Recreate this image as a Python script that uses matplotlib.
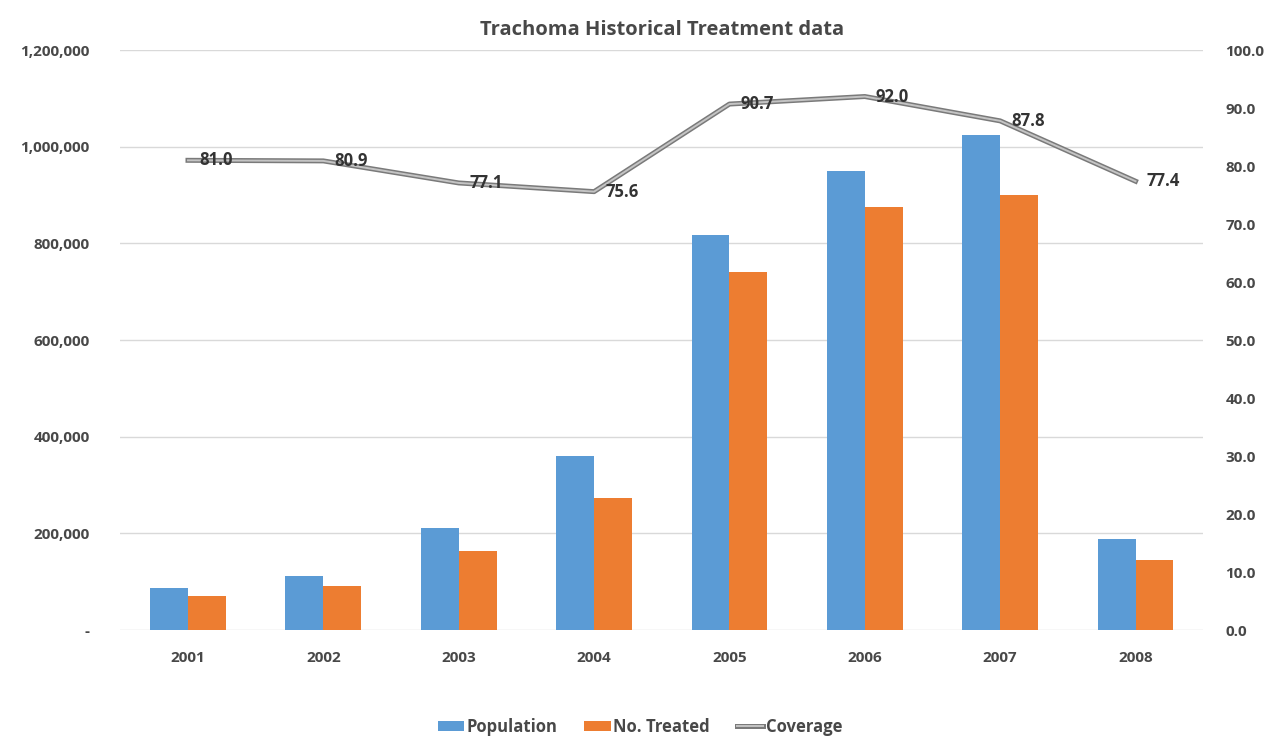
import numpy as np
import matplotlib.pyplot as plt
import matplotlib.patheffects as pe
from matplotlib.ticker import FuncFormatter

years = ["2001", "2002", "2003", "2004", "2005", "2006", "2007", "2008"]
population = [87000, 112000, 211000, 360000, 817000, 950000, 1024000, 188000]
treated = [70000, 91000, 163000, 273000, 741000, 875000, 900000, 145000]
coverage = [81.0, 80.9, 77.1, 75.6, 90.7, 92.0, 87.8, 77.4]

plt.rcParams['font.family'] = ['Open Sans', 'DejaVu Sans']
txt = '#484848'

fig = plt.figure(figsize=(12.8, 7.37), dpi=100)
ax = fig.add_axes([0.094, 0.145, 0.846, 0.787])
ax2 = ax.twinx()

x = np.arange(len(years))
w = 0.28
ax.bar(x - w/2, population, w, color='#5b9bd5', label='Population', zorder=3)
ax.bar(x + w/2, treated, w, color='#ed7d31', label='No. Treated', zorder=3)

ax.set_xlim(-0.5, len(years) - 0.5)
ax.set_ylim(0, 1200000)
ax.set_yticks(np.arange(0, 1200001, 200000))
ax.yaxis.set_major_formatter(FuncFormatter(lambda v, p: '-' if v == 0 else f'{int(v):,}'))
ax.grid(axis='y', color='#d9d9d9', linewidth=1, zorder=0)
ax.set_xticks(x)
ax.set_xticklabels(years)

line, = ax2.plot(x, coverage, color='#c4c4c4', linewidth=1.4, label='Coverage', zorder=4,
                 path_effects=[pe.Stroke(linewidth=3.6, foreground='#7a7a7a'), pe.Normal()])
ax2.set_ylim(0, 100)
ax2.set_yticks(np.arange(0, 101, 10))
ax2.yaxis.set_major_formatter(FuncFormatter(lambda v, p: f'{v:.1f}'))

for xi, c in zip(x, coverage):
    ax2.annotate(f'{c:.1f}', (xi, c), xytext=(8, 0), textcoords='offset points',
                 ha='left', va='center', fontsize=12, fontweight='bold', color='#333333', zorder=5)

for a in (ax, ax2):
    for s in a.spines.values():
        s.set_visible(False)
    a.tick_params(length=0, labelsize=11, labelcolor=txt)
    for lab in a.get_xticklabels() + a.get_yticklabels():
        lab.set_fontweight('bold')
ax.tick_params(axis='y', pad=22)
ax.tick_params(axis='x', pad=15)
ax2.tick_params(axis='y', pad=16)

ax.set_title('Trachoma Historical Treatment data', fontsize=14.5, fontweight='bold', color=txt, pad=11)

h1, l1 = ax.get_legend_handles_labels()
h2, l2 = ax2.get_legend_handles_labels()
leg = fig.legend(h1 + h2, l1 + l2, loc='center', bbox_to_anchor=(0.5, 0.014), ncol=3, frameon=False,
                 prop={'size': 12, 'weight': 'bold'}, handlelength=1.6, handleheight=0.6,
                 handletextpad=0.15, columnspacing=1.6)
for t in leg.get_texts():
    t.set_color(txt)

fig.savefig('out.png', dpi=100)
